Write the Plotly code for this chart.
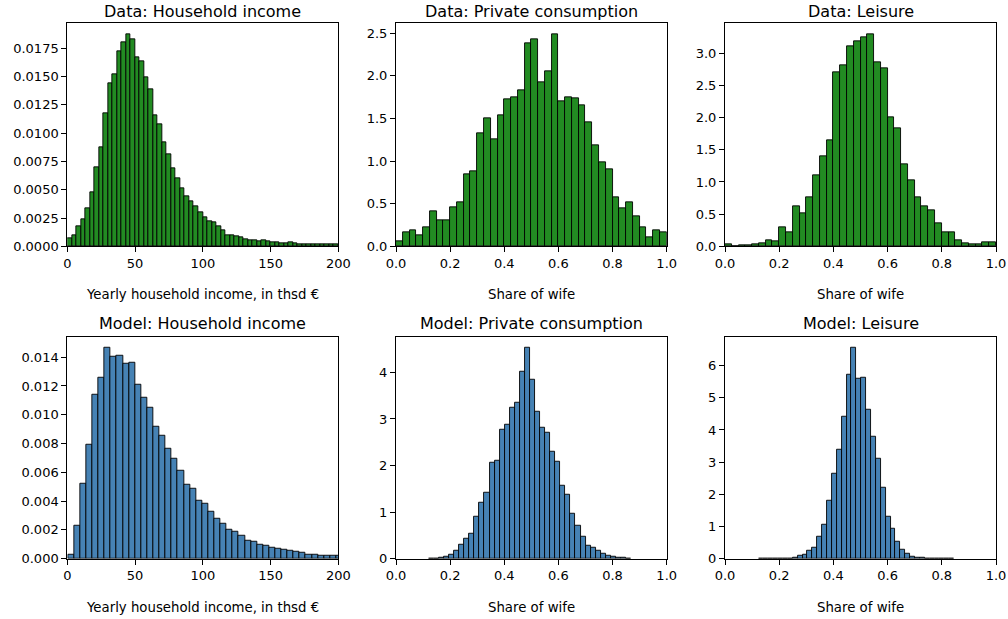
import numpy as np
import plotly.graph_objects as go

# ---------------- data (densities) ----------------
# Data: household income, 60 bins on [0, 200]
inc_data_start, inc_data_width = 0.0, 200.0 / 60
inc_data = [0.00071, 0.00094, 0.00177, 0.00239, 0.00334, 0.00478, 0.00700, 0.00874, 0.01175, 0.01443,
            0.01517, 0.01727, 0.01800, 0.01877, 0.01830, 0.01674, 0.01638, 0.01496, 0.01390, 0.01154,
            0.01077, 0.00915, 0.00812, 0.00685, 0.00602, 0.00514, 0.00446, 0.00396, 0.00351, 0.00301,
            0.00254, 0.00221, 0.00215, 0.00174, 0.00139, 0.00097, 0.00094, 0.00089, 0.00080, 0.00065,
            0.00056, 0.00053, 0.00047, 0.00056, 0.00044, 0.00038, 0.00032, 0.00030, 0.00027, 0.00032,
            0.00027, 0.00020, 0.00018, 0.00020, 0.00018, 0.00015, 0.00015, 0.00015, 0.00015, 0.00015]

# Data: private consumption share of wife, 40 bins on [0, 1]
priv_data_start, priv_data_width = 0.0, 0.025
priv_data = [0.055, 0.165, 0.19, 0.13, 0.22, 0.41, 0.30, 0.30, 0.46, 0.52,
             0.85, 0.88, 1.32, 1.50, 1.26, 1.54, 1.72, 1.75, 1.83, 2.38,
             2.43, 1.92, 2.05, 2.49, 1.70, 1.75, 1.73, 1.65, 1.45, 1.18,
             0.99, 0.90, 0.57, 0.44, 0.52, 0.35, 0.22, 0.11, 0.19, 0.165]

# Data: leisure share of wife, 40 bins on [0, 1]
leis_data_start, leis_data_width = 0.0, 0.025
leis_data = [0.03, 0.0, 0.02, 0.02, 0.025, 0.05, 0.10, 0.08, 0.30, 0.22,
             0.62, 0.51, 0.76, 1.11, 1.40, 1.65, 2.70, 2.81, 3.11, 3.19,
             3.24, 3.30, 2.86, 2.76, 2.00, 1.83, 1.27, 1.03, 0.76, 0.62,
             0.56, 0.35, 0.22, 0.22, 0.10, 0.05, 0.025, 0.025, 0.06, 0.06]

# Model: household income, bins of width 4.5 starting at 0.5
inc_model_start, inc_model_width = 0.5, 4.5
inc_model = [0.00030, 0.00227, 0.00524, 0.00795, 0.01138, 0.01261, 0.01469, 0.01404, 0.01411, 0.01353,
             0.01365, 0.01207, 0.01122, 0.01047, 0.00918, 0.00855, 0.00767, 0.00698, 0.00612, 0.00514,
             0.00487, 0.00406, 0.00380, 0.00327, 0.00278, 0.00246, 0.00202, 0.00185, 0.00158, 0.00127,
             0.00118, 0.00100, 0.00090, 0.00079, 0.00067, 0.00060, 0.00053, 0.00046, 0.00042, 0.00030,
             0.00025, 0.00023, 0.00021, 0.00021, 0.00019]

# Model: private consumption share of wife
priv_model_start, priv_model_width = 0.1213, 0.01868
priv_model = [0.007, 0.01, 0.02, 0.043, 0.08, 0.18, 0.31, 0.42, 0.53, 0.90,
              1.21, 1.42, 2.07, 2.11, 2.78, 2.88, 3.25, 3.35, 4.02, 4.54,
              3.84, 3.15, 2.82, 2.71, 2.29, 2.09, 1.57, 1.38, 0.97, 0.70,
              0.48, 0.28, 0.24, 0.165, 0.10, 0.057, 0.035, 0.025, 0.015, 0.008]

# Model: leisure share of wife
leis_model_start, leis_model_width = 0.1238, 0.01804
leis_model = [0.003, 0.004, 0.005, 0.006, 0.008, 0.01, 0.015, 0.03, 0.10, 0.11,
              0.26, 0.35, 0.69, 1.07, 1.80, 2.63, 3.40, 4.40, 5.73, 6.57,
              5.60, 5.61, 4.64, 3.80, 3.12, 2.20, 1.30, 0.92, 0.54, 0.29,
              0.145, 0.07, 0.04, 0.02, 0.01, 0.008, 0.006, 0.005, 0.004, 0.003]

titles = ["Data: Household income", "Data: Private consumption", "Data: Leisure",
          "Model: Household income", "Model: Private consumption", "Model: Leisure"]
xlabels = ["Yearly household income, in thsd €", "Share of wife", "Share of wife",
           "Yearly household income, in thsd €", "Share of wife", "Share of wife"]

GREEN = "#228B22"
BLUE = "#4682B4"
FONT = "DejaVu Sans"

panels = [
    (inc_data, inc_data_start, inc_data_width, GREEN, [0, 200], 50, "", 0.0025, ".4f"),
    (priv_data, priv_data_start, priv_data_width, GREEN, [0, 1], 0.2, ".1f", 0.5, ".1f"),
    (leis_data, leis_data_start, leis_data_width, GREEN, [0, 1], 0.2, ".1f", 0.5, ".1f"),
    (inc_model, inc_model_start, inc_model_width, BLUE, [0, 200], 50, "", 0.002, ".3f"),
    (priv_model, priv_model_start, priv_model_width, BLUE, [0, 1], 0.2, ".1f", 1, "d"),
    (leis_model, leis_model_start, leis_model_width, BLUE, [0, 1], 0.2, ".1f", 1, "d"),
]

W, H = 1008, 619
xdom = [[67.3 / W, 338.3 / W], [396.0 / W, 666.7 / W], [725.0 / W, 996.0 / W]]
ydom = [[(H - 246.3) / H, (H - 23.3) / H], [(H - 558.7) / H, (H - 336.7) / H]]
title_y = [(H - 11.5) / H, (H - 323.0) / H]
xlabel_y = [(H - 294.5) / H, (H - 607.0) / H]

fig = go.Figure()
layout = dict(
    width=W, height=H, margin=dict(l=0, r=0, t=0, b=0, pad=0, autoexpand=False),
    paper_bgcolor="white", plot_bgcolor="white", showlegend=False,
    font=dict(family=FONT, size=13, color="black"),
    bargap=0, annotations=[], template="none",
)

for i, (vals, start, width, color, xr, xdt, xfmt, ydt, yfmt) in enumerate(panels):
    n = i + 1
    row, col = divmod(i, 3)
    vals = np.array(vals)
    centers = start + width * (np.arange(len(vals)) + 0.5)
    xa = "x" if n == 1 else f"x{n}"
    ya = "y" if n == 1 else f"y{n}"
    fig.add_trace(go.Bar(
        x=centers, y=vals, width=width, xaxis=xa, yaxis=ya,
        marker=dict(color=color, line=dict(color="black", width=0.9)),
        hoverinfo="x+y",
    ))
    axis_common = dict(
        showline=True, linecolor="black", linewidth=1, mirror=True,
        ticks="outside", ticklen=5, tickwidth=1, tickcolor="black",
        showgrid=False, zeroline=False, automargin=False,
        tickfont=dict(family=FONT, size=13, color="black"),
    )
    layout["xaxis" if n == 1 else f"xaxis{n}"] = dict(
        domain=xdom[col], anchor=ya, range=xr, tick0=0, dtick=xdt,
        tickformat=xfmt, **axis_common)
    layout["yaxis" if n == 1 else f"yaxis{n}"] = dict(
        domain=ydom[row], anchor=xa, range=[0, vals.max() * 1.05], tick0=0, dtick=ydt,
        tickformat=yfmt, **axis_common)
    cx = (xdom[col][0] + xdom[col][1]) / 2
    layout["annotations"].append(dict(
        text=titles[i], x=cx, y=title_y[row], xref="paper", yref="paper",
        xanchor="center", yanchor="middle", showarrow=False,
        font=dict(family=FONT, size=16, color="black")))
    layout["annotations"].append(dict(
        text=xlabels[i], x=cx, y=xlabel_y[row], xref="paper", yref="paper",
        xanchor="center", yanchor="middle", showarrow=False,
        font=dict(family=FONT, size=13.3, color="black")))

fig.update_layout(**layout)
fig.write_html("out.html", config={"displayModeBar": False},
               post_script="document.body.style.margin='0';document.body.style.overflow='hidden';")
